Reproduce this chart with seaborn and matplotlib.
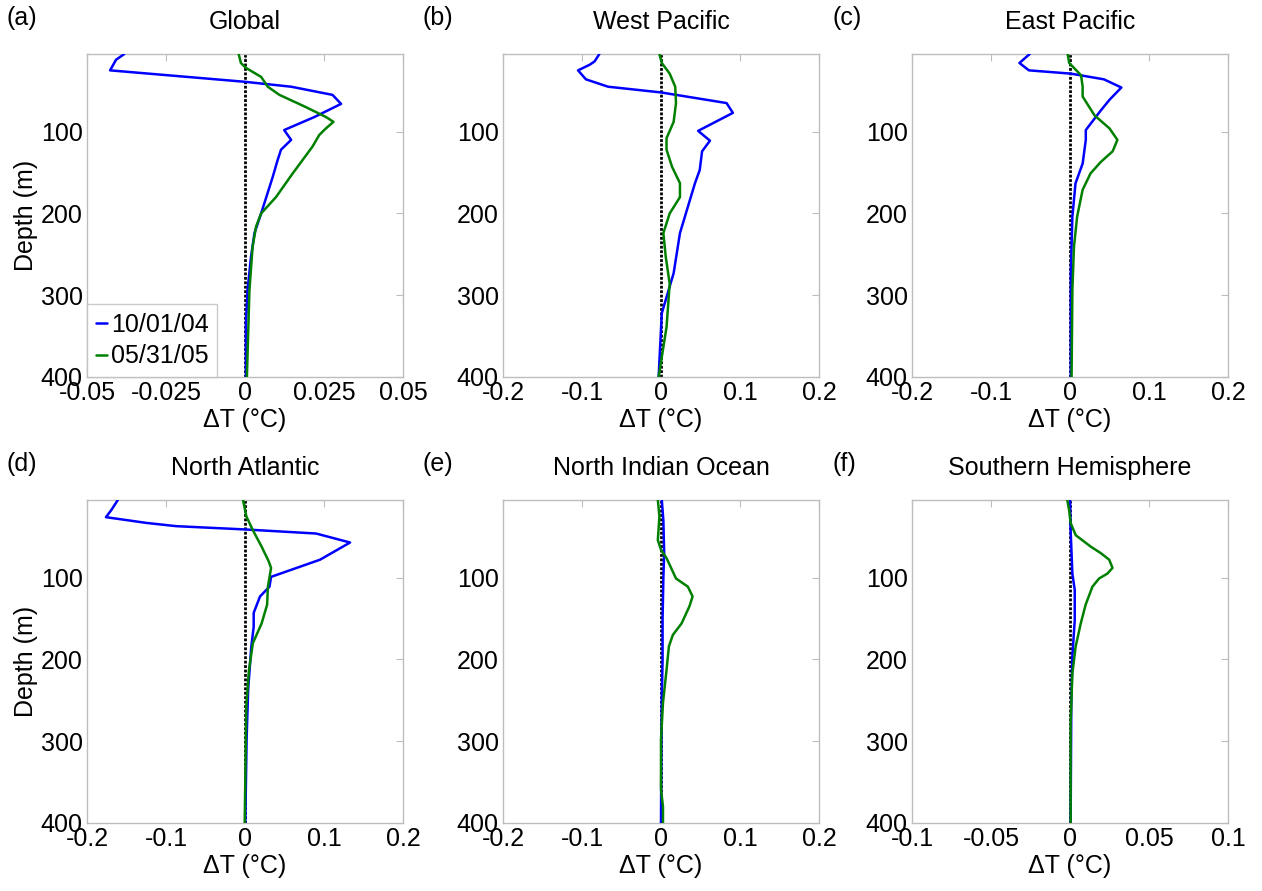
import numpy as np
import pandas as pd
import matplotlib
matplotlib.use("Agg")
import matplotlib.pyplot as plt
import seaborn as sns

# ---------------- data ----------------
series_labels = ["10/01/04", "05/31/05"]
panel_titles = ["Global", "West Pacific", "East Pacific",
                "North Atlantic", "North Indian Ocean", "Southern Hemisphere"]
panel_letters = ["(a)", "(b)", "(c)", "(d)", "(e)", "(f)"]

# (a) Global
a_blue_depth = [5, 12, 25, 39, 45, 55, 66, 82, 98, 110, 122, 135, 155, 200, 224, 253, 294, 335, 400]
a_blue_dT = [-0.0382, -0.0408, -0.0427, 0.0, 0.0146, 0.0277, 0.0304, 0.0220, 0.0124, 0.0146, 0.0114,
             0.0103, 0.0088, 0.0051, 0.0030, 0.0019, 0.0008, 0.0003, 0.0003]
a_green_depth = [5, 16, 22, 33, 45, 55, 70, 82, 88, 96, 104, 118, 129, 151, 180, 200, 216, 241, 294, 400]
a_green_dT = [-0.0020, -0.0013, 0.0003, 0.0051, 0.0072, 0.0109, 0.0193, 0.0256, 0.0280, 0.0256, 0.0235,
              0.0214, 0.0193, 0.0151, 0.0098, 0.0051, 0.0035, 0.0024, 0.0014, 0.0006]

# (b) West Pacific
b_blue_depth = [5, 14, 18, 25, 36, 45, 52, 65, 77, 99, 111, 124, 147, 163, 224, 273, 322, 400]
b_blue_dT = [-0.078, -0.084, -0.090, -0.105, -0.095, -0.067, 0.0, 0.083, 0.091, 0.047, 0.062, 0.052,
             0.049, 0.043, 0.024, 0.016, 0.001, -0.003]
b_green_depth = [5, 16, 29, 45, 65, 88, 108, 122, 143, 163, 180, 200, 224, 253, 286, 339, 400]
b_green_dT = [-0.002, 0.001, 0.011, 0.018, 0.019, 0.016, 0.007, 0.007, 0.014, 0.024, 0.024, 0.011,
              0.003, 0.006, 0.011, 0.007, -0.003]

# (c) East Pacific
c_blue_depth = [5, 16, 25, 29, 36, 46, 61, 74, 98, 110, 139, 163, 204, 273, 400]
c_blue_dT = [-0.051, -0.064, -0.052, 0.001, 0.043, 0.065, 0.050, 0.039, 0.020, 0.020, 0.016, 0.007,
             0.003, 0.001, 0.001]
c_green_depth = [5, 16, 31, 45, 57, 80, 96, 110, 124, 137, 151, 171, 204, 241, 294, 400]
c_green_dT = [-0.003, -0.001, 0.014, 0.016, 0.016, 0.031, 0.050, 0.060, 0.054, 0.039, 0.026, 0.016,
              0.009, 0.005, 0.003, 0.002]

# (d) North Atlantic
d_blue_depth = [5, 17, 26, 33, 37, 41, 46, 57, 78, 99, 111, 123, 143, 160, 184, 237, 298, 400]
d_blue_dT = [-0.161, -0.169, -0.176, -0.125, -0.087, 0.0, 0.090, 0.133, 0.095, 0.033, 0.031, 0.019,
             0.011, 0.011, 0.008, 0.004, 0.002, 0.0004]
d_green_depth = [5, 25, 42, 62, 80, 88, 111, 133, 156, 180, 213, 257, 400]
d_green_dT = [-0.0025, 0.0017, 0.010, 0.021, 0.030, 0.033, 0.029, 0.028, 0.021, 0.010, 0.005, 0.0017,
              -0.0004]

# (e) North Indian Ocean
e_blue_depth = [5, 30, 70, 100, 150, 200, 250, 300, 400]
e_blue_dT = [0.001, 0.003, 0.004, 0.003, 0.002, 0.002, 0.001, 0.0005, 0.0]
e_green_depth = [5, 25, 54, 66, 76, 101, 111, 123, 135, 156, 170, 184, 213, 253, 298, 359, 380, 400]
e_green_dT = [-0.004, -0.002, -0.004, 0.0, 0.007, 0.019, 0.034, 0.040, 0.036, 0.026, 0.015, 0.010,
              0.007, 0.0025, 0.0, 0.0, 0.0025, 0.0025]

# (f) Southern Hemisphere
f_blue_depth = [5, 42, 95, 115, 152, 196, 257, 400]
f_blue_dT = [0.0, 0.0004, 0.0015, 0.003, 0.003, 0.0015, 0.0008, 0.0004]
f_green_depth = [5, 17, 33, 48, 62, 70, 78, 88, 95, 101, 111, 133, 156, 184, 217, 278, 400]
f_green_dT = [-0.0017, -0.0006, 0.0004, 0.0036, 0.0131, 0.0195, 0.0248, 0.0269, 0.0237, 0.0184,
              0.0142, 0.0099, 0.0068, 0.0036, 0.0015, 0.0004, 0.0004]

x_ticks = [[-0.05, -0.025, 0, 0.025, 0.05],
           [-0.2, -0.1, 0, 0.1, 0.2],
           [-0.2, -0.1, 0, 0.1, 0.2],
           [-0.2, -0.1, 0, 0.1, 0.2],
           [-0.2, -0.1, 0, 0.1, 0.2],
           [-0.1, -0.05, 0, 0.05, 0.1]]
x_ticklabels = [["-0.05", "-0.025", "0", "0.025", "0.05"],
                ["-0.2", "-0.1", "0", "0.1", "0.2"],
                ["-0.2", "-0.1", "0", "0.1", "0.2"],
                ["-0.2", "-0.1", "0", "0.1", "0.2"],
                ["-0.2", "-0.1", "0", "0.1", "0.2"],
                ["-0.1", "-0.05", "0", "0.05", "0.1"]]
y_ticks = [100, 200, 300, 400]

panels = [
    (a_blue_depth, a_blue_dT, a_green_depth, a_green_dT),
    (b_blue_depth, b_blue_dT, b_green_depth, b_green_dT),
    (c_blue_depth, c_blue_dT, c_green_depth, c_green_dT),
    (d_blue_depth, d_blue_dT, d_green_depth, d_green_dT),
    (e_blue_depth, e_blue_dT, e_green_depth, e_green_dT),
    (f_blue_depth, f_blue_dT, f_green_depth, f_green_dT),
]

# ---------------- style ----------------
sns.set_theme(style="white")
plt.rcParams["font.family"] = ["Liberation Sans", "DejaVu Sans"]
plt.rcParams["axes.unicode_minus"] = False
plt.rcParams["text.color"] = "black"
plt.rcParams["axes.labelcolor"] = "black"
plt.rcParams["xtick.color"] = "black"
plt.rcParams["ytick.color"] = "black"

FS = 18
GREY = "#bdbdbd"
colors = {series_labels[0]: "#0000ff", series_labels[1]: "#008000"}

fig = plt.figure(figsize=(12.62, 8.91), dpi=100)
lefts = [87, 503, 912]
tops = [54, 500]
W, H = 316, 323

for i, (bd, bv, gd, gv) in enumerate(panels):
    r, c = divmod(i, 3)
    l = lefts[c] / 1262
    b = 1 - (tops[r] + H) / 891
    ax = fig.add_axes([l, b, W / 1262, H / 891])

    df = pd.concat([
        pd.DataFrame({"depth": bd, "dT": bv, "series": series_labels[0]}),
        pd.DataFrame({"depth": gd, "dT": gv, "series": series_labels[1]}),
    ], ignore_index=True)

    ax.axvline(0, color="black", lw=2, ls=(0, (1, 0.6)), zorder=1)
    sns.lineplot(data=df, x="dT", y="depth", hue="series", palette=colors,
                 sort=False, estimator=None, orient="y", lw=1.8, ax=ax,
                 legend=(i == 0), zorder=3)

    ax.set_xlim(x_ticks[i][0], x_ticks[i][-1])
    ax.set_ylim(400, 5)
    ax.set_xticks(x_ticks[i])
    ax.set_xticklabels(x_ticklabels[i])
    ax.set_yticks(y_ticks)
    ax.set_yticklabels([str(t) for t in y_ticks])
    ax.tick_params(axis="both", direction="in", length=5, width=0.8, color=GREY,
                   labelsize=FS, labelcolor="black", top=True, right=True, pad=3)
    for s in ax.spines.values():
        s.set_color(GREY)
        s.set_linewidth(1.0)

    ax.set_xlabel("ΔT (°C)", fontsize=FS, labelpad=2, color="black")
    if c == 0:
        ax.set_ylabel("Depth (m)", fontsize=FS, labelpad=2, color="black")
    else:
        ax.set_ylabel("")
    ax.set_title(panel_titles[i], fontsize=FS, pad=18, color="black")
    fig.text((lefts[c] - 80) / 1262, 1 - (tops[r] - 36) / 891, panel_letters[i],
             fontsize=FS, ha="left", va="center", color="black")

    if i == 0:
        leg = ax.legend(loc="lower left", fontsize=FS, frameon=True, fancybox=False,
                        handlelength=0.45, handletextpad=0.15, borderpad=0.35,
                        labelspacing=0.3, borderaxespad=0.0)
        leg.get_frame().set_edgecolor(GREY)
        leg.get_frame().set_linewidth(1.0)
        for t in leg.get_texts():
            t.set_color("black")
        leg.set_title(None)

fig.savefig("out.png", dpi=100)
